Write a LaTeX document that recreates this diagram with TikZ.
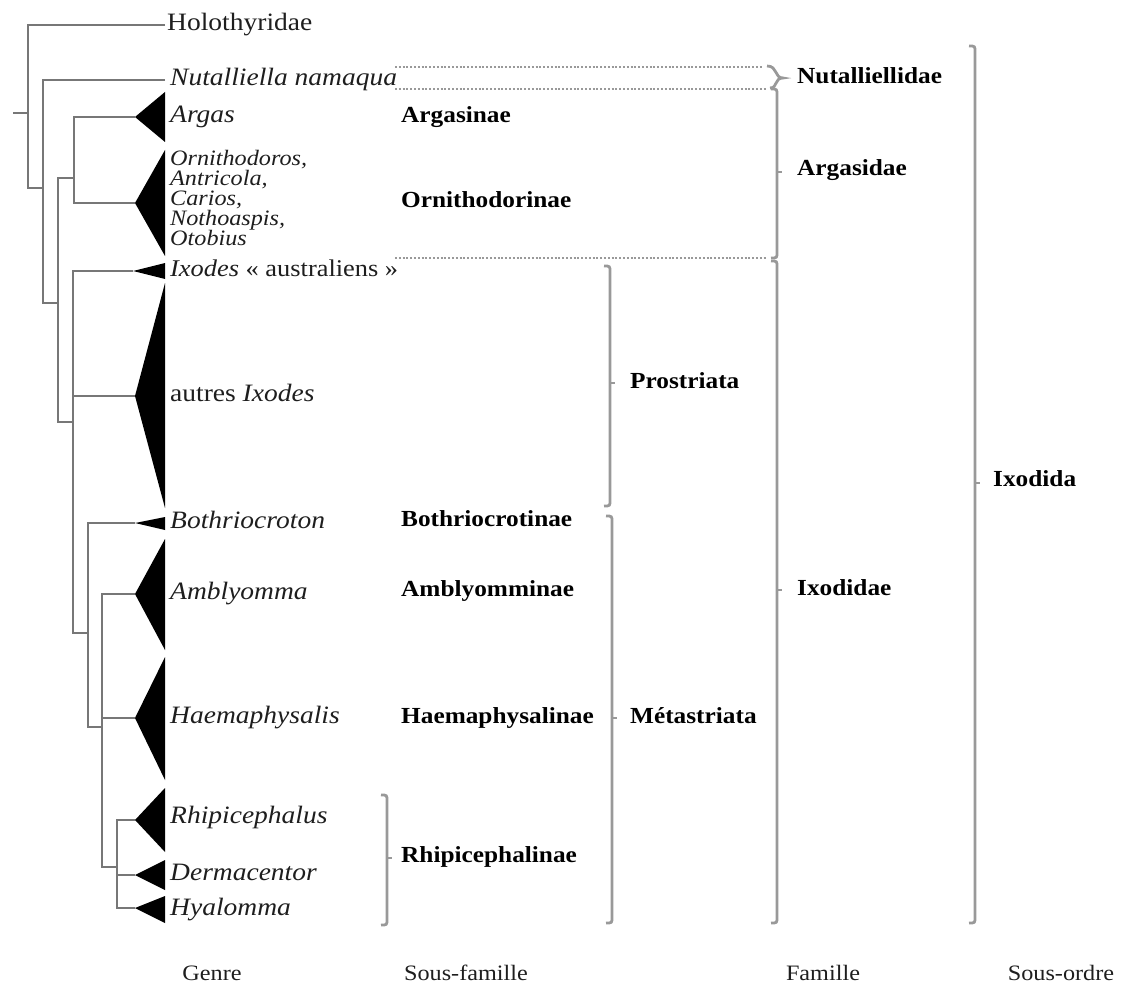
\documentclass[tikz,border=0pt]{standalone}
\usepackage{fontspec}
\setmainfont{Liberation Serif}[FakeStretch=1.1]
\definecolor{treegray}{HTML}{777777}
\definecolor{brgray}{HTML}{999999}
\definecolor{txt}{HTML}{1E1E1E}
\newcommand\mybracket[4]{%
  \draw[bkt] ({#1-6},#2) .. controls (#1,#2) .. (#1,{#2+6}) -- (#1,{#3-6}) .. controls (#1,#3) .. ({#1-6},#3);
  \draw[bkt] (#1,#4) -- ({#1+5},#4);}
\begin{document}
\begin{tikzpicture}[x=1pt,y=-1pt,
  branch/.style={draw=treegray, line width=2.1pt},
  tri/.style={fill=black},
  gen/.style={anchor=west, inner sep=0pt, font=\fontsize{25}{25}\selectfont\itshape, text=txt, text height=11pt, text depth=0pt},
  genup/.style={gen, font=\fontsize{25}{25}\selectfont},
  gensm/.style={gen, font=\fontsize{22}{22}\selectfont\itshape, text height=9pt},
  subf/.style={anchor=west, inner sep=0pt, font=\fontsize{23}{23}\selectfont\bfseries, text=black, text height=11pt, text depth=0pt},
  bkt/.style={draw=brgray, line width=2.8pt},
  dots/.style={draw=brgray, line width=2pt, dash pattern=on 2pt off 1.8pt},
  axislab/.style={anchor=base, inner sep=0pt, font=\fontsize{22}{22}\selectfont, text=txt}]
\useasboundingbox (0,0) rectangle (1127,987);

% ---------- internal nodes ----------
\coordinate (r0) at (13,113);
\coordinate (r) at (28,113);
\coordinate (n2) at (43,188);
\coordinate (n3) at (58,303);
\coordinate (na) at (74,178);
\coordinate (ni) at (73,422);
\coordinate (nm) at (88,633);
\coordinate (nh) at (102,727);
\coordinate (nr) at (117,867);

% ---------- apices ----------
\coordinate (aHol) at (165,25);
\coordinate (aNut) at (165,80);
\coordinate (aArg) at (135,117);
\coordinate (aOrn) at (135,203);
\coordinate (aIxa) at (133,271);
\coordinate (aIxo) at (135,396);
\coordinate (aBot) at (135,523);
\coordinate (aAmb) at (135,594);
\coordinate (aHae) at (135,718);
\coordinate (aRhi) at (135,820);
\coordinate (aDer) at (135,875);
\coordinate (aHya) at (135,908);

% ---------- tree branches ----------
\draw[branch] (r0) -- (r);
\draw[branch] (aHol) -| (r) |- (n2);
\draw[branch] (aNut) -| (n2) |- (n3);
\draw[branch] (na) -| (n3) |- (ni);
\draw[branch] (aArg) -| (na) |- (aOrn);
\draw[branch] (aIxa) -| (ni) |- (nm);
\draw[branch] (ni |- aIxo) -- (aIxo);
\draw[branch] (aBot) -| (nm) |- (nh);
\draw[branch] (aAmb) -| (nh) |- (nr);
\draw[branch] (nh |- aHae) -- (aHae);
\draw[branch] (aRhi) -| (nr) |- (aHya);
\draw[branch] (nr |- aDer) -- (aDer);

% ---------- collapsed clades ----------
\fill[tri] (aArg) -- (165,92) -- (165,142) -- cycle;
\fill[tri] (aOrn) -- (165,150) -- (165,256) -- cycle;
\fill[tri] (aIxa) -- (165,263) -- (165,279) -- cycle;
\fill[tri] (aIxo) -- (165,283) -- (165,508) -- cycle;
\fill[tri] (aBot) -- (165,517) -- (165,530) -- cycle;
\fill[tri] (aAmb) -- (165,539) -- (165,650) -- cycle;
\fill[tri] (aHae) -- (165,657) -- (165,780) -- cycle;
\fill[tri] (aRhi) -- (165,788) -- (165,852) -- cycle;
\fill[tri] (aDer) -- (165,860) -- (165,890) -- cycle;
\fill[tri] (aHya) -- (165,896) -- (165,923) -- cycle;

% ---------- genus labels ----------
\node[genup] (tHol) at (167,25) {Holothyridae};
\node[gen] (tNut) at (170,80) {Nutalliella namaqua};
\node[gen] (tArg) at (170,117) {Argas};
\node[gensm] (tO1) at (170,161) {Ornithodoros,};
\node[gensm] (tO2) at (170,181) {Antricola,};
\node[gensm] (tO3) at (170,201) {Carios,};
\node[gensm] (tO4) at (170,221) {Nothoaspis,};
\node[gensm] (tO5) at (170,241) {Otobius};
\node[genup, font=\fontsize{24}{24}\selectfont] (tIxa) at (170,271) {\textit{Ixodes} « australiens »};
\node[genup] (tIxo) at (170,396) {autres \textit{Ixodes}};
\node[gen] (tBot) at (170,523) {Bothriocroton};
\node[gen] (tAmb) at (170,594) {Amblyomma};
\node[gen] (tHae) at (170,718) {Haemaphysalis};
\node[gen] (tRhi) at (170,818) {Rhipicephalus};
\node[gen] (tDer) at (170,875) {Dermacentor};
\node[gen] (tHya) at (170,910) {Hyalomma};

% ---------- sub-family labels ----------
\node[subf] (sArg) at (401,117) {Argasinae};
\node[subf] (sOrn) at (401,202) {Ornithodorinae};
\node[subf] (sBot) at (401,521) {Bothriocrotinae};
\node[subf] (sAmb) at (401,591) {Amblyomminae};
\node[subf] (sHae) at (401,718) {Haemaphysalinae};
\node[subf] (sRhi) at (401,857) {Rhipicephalinae};
\node[subf] (sPro) at (630,383) {Prostriata};
\node[subf] (sMet) at (630,718) {Métastriata};
\node[subf] (fNut) at (797,78) {Nutalliellidae};
\node[subf] (fArg) at (797,170) {Argasidae};
\node[subf] (fIxo) at (797,590) {Ixodidae};
\node[subf] (oIxo) at (993,481) {Ixodida};

% ---------- dotted separators ----------
\draw[dots] (395,67) -- (762,67);
\draw[dots] (395,89) -- (766,89);
\draw[dots] (395,258) -- (766,258);

% ---------- brackets ----------
\draw[bkt] (767,66) .. controls (778,66) and (774,78) .. (783,78) .. controls (774,78) and (778,88) .. (770,88);
\mybracket{777}{89}{258}{172}
\mybracket{777}{261}{923}{590}
\mybracket{975}{46}{923}{483}
\mybracket{610}{266}{506}{383}
\mybracket{612}{516}{923}{718}
\mybracket{387}{795}{925}{858}

% ---------- column titles ----------
\node[axislab] (cGen) at (212,980) {Genre};
\node[axislab] (cSub) at (466,980) {Sous-famille};
\node[axislab] (cFam) at (823,980) {Famille};
\node[axislab] (cOrd) at (1061,980) {Sous-ordre};
\end{tikzpicture}
\end{document}
